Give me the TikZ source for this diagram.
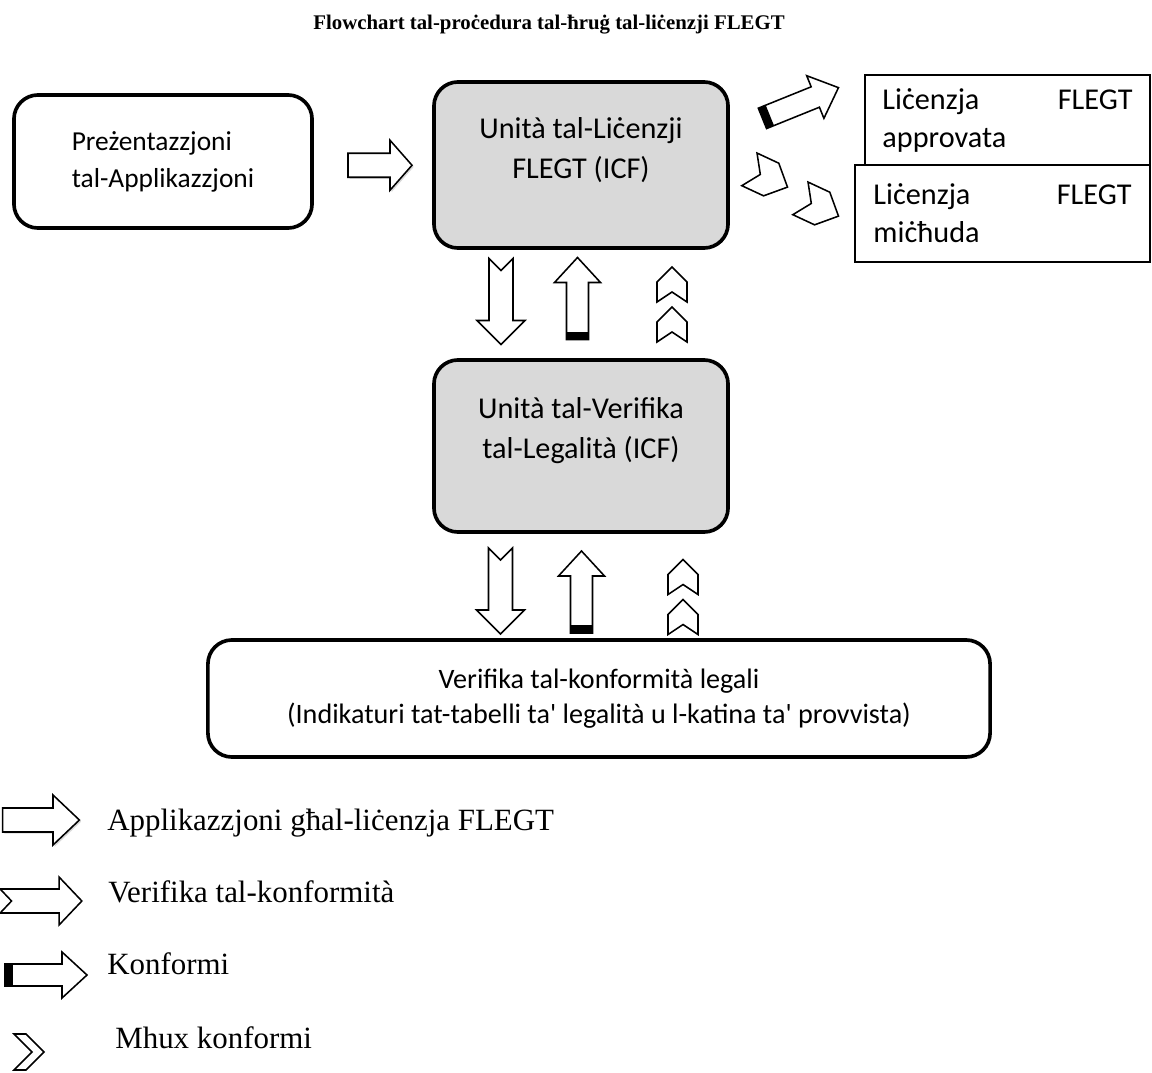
\documentclass[tikz,border=0pt]{standalone}
\usepackage{fontspec}
\setmainfont{Carlito}
\newfontfamily\legendfont{Liberation Serif}
\usetikzlibrary{calc,shadows}
\definecolor{boxgray}{RGB}{217,217,217}
\tikzset{
  roundbox/.style={draw, line width=2.6pt, rounded corners=0.6cm, inner sep=0pt},
  flatbox/.style={draw, line width=1.3pt, fill=white, inner sep=0pt},
  boxtext/.style={font=\fontsize{21.5}{28.5}\selectfont, align=center},
  legendtext/.style={anchor=west, inner sep=0pt, font=\legendfont\fontsize{22}{25}\selectfont},
  title/.style={font=\legendfont\bfseries\fontsize{14.8}{17}\selectfont},
  arrowline/.style={draw, line width=1.1pt, fill=white, line join=miter},
  pics/applarrow/.style={code={
    \draw[arrowline, drop shadow={shadow xshift=1.2pt, shadow yshift=-1.2pt, opacity=0.3}]
      (-32,-12) -- (10,-12) -- (10,-25) -- (32,0) -- (10,25) -- (10,12) -- (-32,12) -- cycle;}},
  pics/verifarrow/.style={code={
    \draw[arrowline] (-43,-12) -- (19,-12) -- (19,-24) -- (43,0) -- (19,24) -- (19,12) -- (-43,12) -- (-31,0) -- cycle;}},
  pics/confarrow/.style={code={
    \draw[arrowline] (-41,-11) -- (16,-11) -- (16,-23) -- (41,0) -- (16,23) -- (16,11) -- (-41,11) -- cycle;
    \fill (-41,-11) rectangle (-33,11);}},
  pics/chevron/.style={code={
    \draw[arrowline] (17.5,0) -- (2.5,-15) -- (-17.5,-15) -- (-7.5,0) -- (-17.5,15) -- (2.5,15) -- cycle;}},
  pics/thinchevron/.style={code={
    \draw[arrowline] (18,0) -- (0,-18) -- (-12,-18) -- (6,0) -- (-12,18) -- (0,18) -- cycle;}},
  pics/twochevrons/.style={code={
    \foreach \s in {20,-20}
      \draw[arrowline] (\s+17.5,0) -- (\s+2.5,-15) -- (\s-17.5,-15) -- (\s-7.5,0) -- (\s-17.5,15) -- (\s+2.5,15) -- cycle;}}
}
\begin{document}
\begin{tikzpicture}[x=0.025cm,y=-0.025cm]%FLEGT
\useasboundingbox (0,0) rectangle (1152,1073);
\node[title] (ttl) at (549,25) {Flowchart tal-proċedura tal-ħruġ tal-liċenzji FLEGT};
% boxes
\node[roundbox, minimum width=7.45cm, minimum height=3.325cm, align=left,
  font=\fontsize{19.5}{26.3}\selectfont] (app) at (163,161.5) {Preżentazzjoni\\tal-Applikazzjoni};
\node[roundbox, fill=boxgray, minimum width=7.35cm, minimum height=4.15cm] (icf) at (581,165) {};
\node[boxtext] (icf-txt) at ([yshift=10.5pt]icf.center) {Unità tal-Liċenzji\\FLEGT (ICF)};
\node[roundbox, fill=boxgray, minimum width=7.35cm, minimum height=4.3cm] (verif) at (581,446) {};
\node[boxtext] (verif-txt) at ([yshift=11pt]verif.center) {Unità tal-Verifika\\tal-Legalità (ICF)};
\node[roundbox, minimum width=19.55cm, minimum height=2.925cm,
  font=\fontsize{20}{25}\selectfont, align=center] (legal) at (599,698.5)
  {Verifika tal-konformità legali\\(Indikaturi tat-tabelli ta\textquotesingle{} legalità u l-katina ta\textquotesingle{} provvista)};
\node[flatbox, minimum width=7.125cm, minimum height=2.25cm, align=left,
  font=\fontsize{21.5}{27}\selectfont] (approved) at (1007.5,120)
  {\makebox[6.25cm]{Liċenzja\hfill FLEGT}\\approvata};
\node[flatbox, minimum width=7.375cm, minimum height=2.425cm, align=left,
  font=\fontsize{21.5}{27}\selectfont] (rejected) at (1002.5,213.5)
  {\makebox[6.45cm]{Liċenzja\hfill FLEGT}\\miċħuda};
% arrows between boxes
\pic at ($(app.east)!.5!(icf.west)+(7,2)$) {applarrow};
\pic[rotate=22] at ($(icf.east)!.5!(approved.west)+(3.5,-39.5)$) {confarrow};
\pic[rotate=-25, scale=1.2] at ($(icf.east)!.5!(rejected.west)+(-23.5,-11)$) {chevron};
\pic[rotate=-25, scale=1.2] at ($(icf.east)!.5!(rejected.west)+(27.5,18)$) {chevron};
\pic[rotate=-90] at ($(icf.south)!.5!(verif.north)+(-80,-2.5)$) {verifarrow};
\pic[rotate=90] at ($(icf.south)!.5!(verif.north)+(-3.5,-5.5)$) {confarrow};
\pic[rotate=90] at ($(icf.south)!.5!(verif.north)+(91,0.5)$) {twochevrons};
\pic[rotate=-90] at ($(verif.south)!.5!(legal.north)+(-89.5,5)$) {verifarrow};
\pic[rotate=90] at ($(verif.south)!.5!(legal.north)+(-8.5,6)$) {confarrow};
\pic[rotate=90] at ($(verif.south)!.5!(legal.north)+(93,11)$) {twochevrons};
% legend
\pic[xscale=1.2] at (41,820) {applarrow};
\node[legendtext] (leg-app) at (107,823) {Applikazzjoni għal-liċenzja FLEGT};
\pic[xscale=0.95] at (41,901) {verifarrow};
\node[legendtext] (leg-verif) at (108,892) {Verifika tal-konformità};
\pic at (46,975) {confarrow};
\node[legendtext] (leg-conf) at (107,964) {Konformi};
\pic at (26,1052) {thinchevron};
\node[legendtext] (leg-nonconf) at (115,1038) {Mhux konformi};
\end{tikzpicture}
\end{document}
